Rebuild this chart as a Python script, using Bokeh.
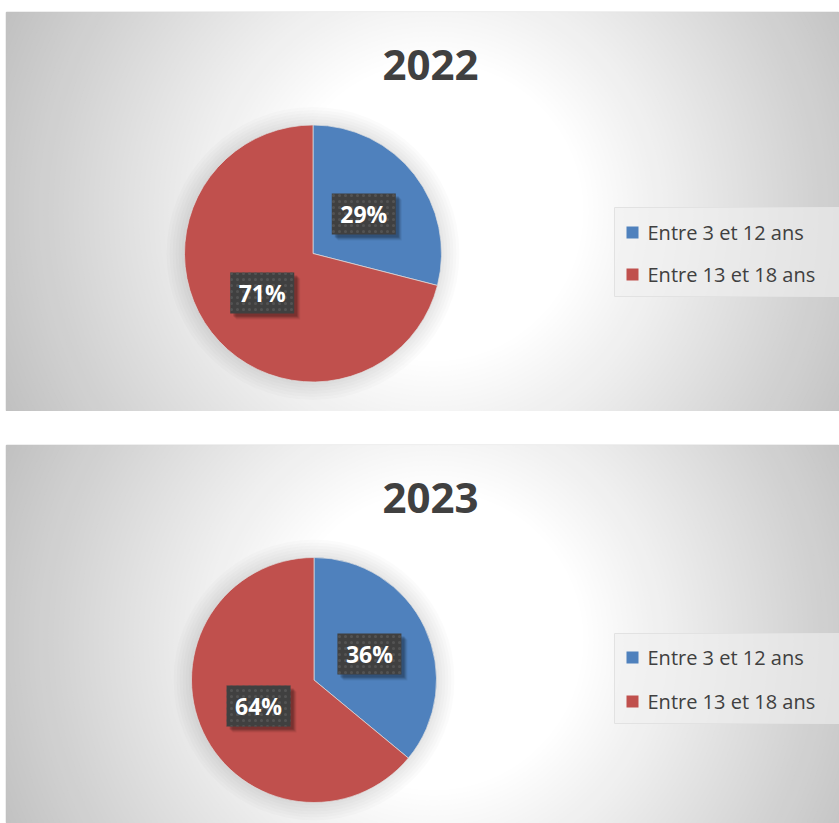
import numpy as np
from bokeh.plotting import figure
from bokeh.layouts import column
from bokeh.models import Range1d
from bokeh.core.properties import value
from bokeh.embed import file_html
from bokeh.resources import INLINE

# ---- data ----
categories = ["Entre 3 et 12 ans", "Entre 13 et 18 ans"]
years = ["2022", "2023"]
values_2022 = [29, 71]
values_2023 = [36, 64]
colors = ["#4f81bd", "#c0504d"]

FONT = value("Open Sans")
LEFT = 6  # page x of panel left edge

# page-coordinate layout of each panel
layouts = [
    dict(page_top=12, page_bottom=411, height=411, min_top=12,
         title_y=64, cx=312.5, cy=253, R=128.5,
         leg_y=[232, 274], leg_box=(207, 296), grad=(433, 211)),
    dict(page_top=445, page_bottom=823, height=412, min_top=34,
         title_y=497, cx=313.5, cy=679.5, R=122.5,
         leg_y=[657, 701], leg_box=(633, 723), grad=(433, 640)),
]


def hexgray(g):
    g = int(round(g))
    return "#%02x%02x%02x" % (g, g, g)


def panel(year, vals, lay):
    fh = lay["page_bottom"] - lay["page_top"]
    fy = lambda py: lay["page_bottom"] - py
    fx = lambda px: px - LEFT
    p = figure(width=839, height=lay["height"], x_range=Range1d(0, 839 - LEFT), y_range=Range1d(0, fh),
               output_backend="svg", toolbar_location=None,
               x_axis_location=None, y_axis_location=None,
               min_border_left=LEFT, min_border_right=0, min_border_bottom=0,
               min_border_top=lay["min_top"])
    p.grid.visible = False
    p.outline_line_color = "#bfbfbf"
    p.outline_line_width = 1.5
    p.background_fill_color = "#c0c0c0"
    p.border_fill_color = "white"

    # radial gradient background
    gx, gy = fx(lay["grad"][0]), fy(lay["grad"][1])
    rs = np.arange(600, 140, -5.0)
    t = np.clip((rs - 150) / (470 - 150), 0, 1)
    cols = [hexgray(255 - 62 * v) for v in t]
    p.circle(x=[gx] * len(rs), y=[gy] * len(rs), radius=rs, fill_color=cols, line_color=None)

    # title
    p.text(x=[fx(430)], y=[fy(lay["title_y"])], text=[year], text_font=FONT,
           text_font_style="bold", text_font_size="42px", text_color="#404040",
           text_align="center", text_baseline="middle")

    # pie shadow (soft halo)
    cx, cy, R = fx(lay["cx"]), fy(lay["cy"]), lay["R"]
    sr = [R + d for d in range(18, 0, -3)]
    p.circle(x=[cx] * len(sr), y=[cy] * len(sr), radius=sr,
             fill_color="black", fill_alpha=0.016, line_color=None)

    # pie
    total = float(sum(vals))
    fr = [v / total for v in vals]
    c1 = np.cumsum(fr)
    c0 = c1 - np.array(fr)
    start = np.pi / 2 - 2 * np.pi * c1
    end = np.pi / 2 - 2 * np.pi * c0
    p.wedge(x=[cx] * len(vals), y=[cy] * len(vals), radius=R, start_angle=start, end_angle=end,
            direction="anticlock", fill_color=colors, line_color="#e0e0e0", line_width=0.7)

    # data labels
    mid = np.pi / 2 - 2 * np.pi * (c0 + c1) / 2
    lx = cx + 0.5 * R * np.cos(mid)
    ly = cy + 0.5 * R * np.sin(mid)
    for off, a in [(6, 0.06), (5, 0.09), (4, 0.12), (3, 0.15)]:
        p.rect(x=lx + off, y=ly - off, width=64, height=41, fill_color="black",
               fill_alpha=a, line_color=None)
    p.rect(x=lx, y=ly, width=64, height=41, fill_color="#404040", line_color=None,
           hatch_pattern="dot", hatch_color="#535353", hatch_scale=6, hatch_weight=0.8)
    p.text(x=lx, y=ly, text=["%d%%" % v for v in vals], text_font=FONT, text_font_style="bold",
           text_font_size="23px", text_color="white", text_align="center", text_baseline="middle")

    # legend
    bt, bb = lay["leg_box"]
    p.rect(x=[fx(726.5)], y=[fy((bt + bb) / 2)], width=225, height=bb - bt,
           fill_color="#f0f0f0", fill_alpha=0.6, line_color="#e2e2e2", line_width=1)
    ly_ = [fy(v) for v in lay["leg_y"]]
    p.rect(x=[fx(632)] * 2, y=ly_, width=12, height=12, fill_color=colors, line_color=None)
    p.text(x=[fx(647)] * 2, y=ly_, text=categories, text_font=FONT, text_font_size="20px",
           text_color="#404040", text_align="left", text_baseline="middle")
    return p


p1 = panel(years[0], values_2022, layouts[0])
p2 = panel(years[1], values_2023, layouts[1])
page = column(p1, p2, spacing=0)
open("out.html", "w").write(file_html(page, INLINE))
